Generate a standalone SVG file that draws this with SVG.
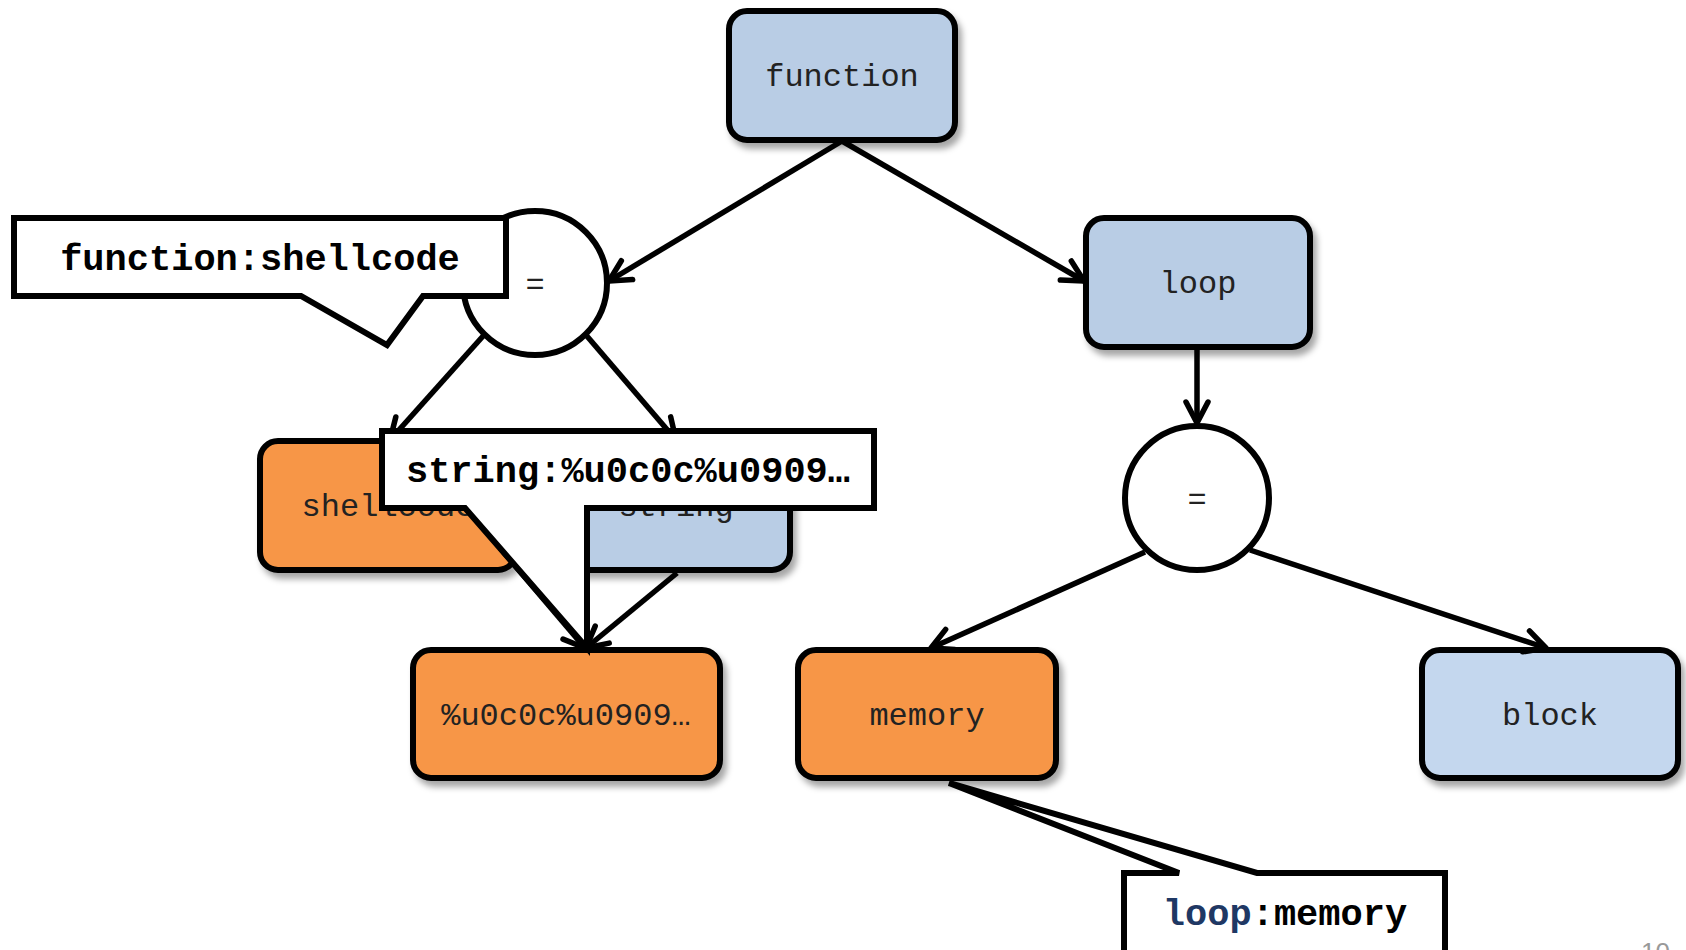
<svg xmlns="http://www.w3.org/2000/svg" width="1686" height="950" viewBox="0 0 1686 950">
<defs>
<filter id="sh" x="-10%" y="-10%" width="130%" height="140%">
<feDropShadow dx="4" dy="6" stdDeviation="3" flood-color="#000" flood-opacity="0.35"/>
</filter>
<marker id="arr" markerUnits="userSpaceOnUse" viewBox="-26 -15 30 30" refX="0" refY="0" markerWidth="30" markerHeight="30" orient="auto" overflow="visible">
<path d="M-21,-11 L0,0 L-21,11" fill="none" stroke="#000" stroke-width="5.5" stroke-linecap="round" stroke-linejoin="round"/>
</marker>
</defs>
<style>
.box{stroke:#000;stroke-width:6;filter:url(#sh)}
.blue{fill:#B9CDE5}
.blue2{fill:#C4D7EE}
.orange{fill:#F79646}
.circ{fill:#fff;stroke:#000;stroke-width:6}
.lbl{font-family:"Liberation Mono","Courier New",monospace;font-size:32px;fill:#222;text-anchor:middle}
.conn{stroke:#000;stroke-width:5.5;fill:none;marker-end:url(#arr)}
.call{fill:#fff;stroke:#000;stroke-width:6;stroke-linejoin:miter}
.ctext{font-family:"Liberation Mono","Courier New",monospace;font-size:37px;font-weight:bold;fill:#000;text-anchor:middle}
</style>
<rect width="1686" height="950" fill="#fff"/>

<g id="node-function"><rect class="box blue" x="729" y="11" width="226" height="129" rx="18"/><text class="lbl" x="842" y="86">function</text></g>
<g id="node-loop"><rect class="box blue" x="1086" y="218" width="224" height="129" rx="18"/><text class="lbl" x="1198" y="293">loop</text></g>
<g id="node-eq1"><circle class="circ" cx="535" cy="283" r="72"/><text class="lbl" x="535" y="294">=</text></g>
<g id="node-eq2"><circle class="circ" cx="1197" cy="498" r="72"/><text class="lbl" x="1197" y="509">=</text></g>
<g id="node-shellcode"><rect class="box orange" x="260" y="441" width="256" height="129" rx="18"/><text class="lbl" x="388" y="516">shellcode</text></g>
<g id="node-string"><rect class="box blue" x="562" y="441" width="228" height="129" rx="18"/><text class="lbl" x="676" y="516">string</text></g>
<g id="node-value"><rect class="box orange" x="413" y="650" width="307" height="128" rx="18"/><text class="lbl" x="566" y="725">%u0c0c%u0909…</text></g>
<g id="node-memory"><rect class="box orange" x="798" y="650" width="258" height="128" rx="18"/><text class="lbl" x="927" y="725">memory</text></g>
<g id="node-block"><rect class="box blue2" x="1422" y="650" width="256" height="128" rx="18"/><text class="lbl" x="1550" y="725">block</text></g>

<g id="connectors">
<line class="conn" x1="842" y1="141" x2="609" y2="281"/>
<line class="conn" x1="842" y1="141" x2="1084" y2="281"/>
<line class="conn" x1="484" y1="335" x2="390" y2="440"/>
<line class="conn" x1="586" y1="335" x2="676" y2="440"/>
<line class="conn" x1="1197" y1="348" x2="1197" y2="423"/>
<line class="conn" x1="1145" y1="552" x2="931" y2="648"/>
<line class="conn" x1="1250" y1="550" x2="1546" y2="648"/>
<line class="conn" x1="500" y1="548" x2="585" y2="648"/>
<line class="conn" x1="677" y1="573" x2="586" y2="648"/>
</g>

<g id="callout-function-shellcode">
<path class="call" d="M14,218 H506 V296 H423 L387,345 L301,296 H14 Z"/>
<text class="ctext" x="260" y="270">function:shellcode</text>
</g>
<g id="callout-string">
<path class="call" d="M382,431 H874 V508 H587 V648 L465,508 H382 Z"/>
<text class="ctext" x="628" y="482">string:%u0c0c%u0909…</text>
</g>
<g id="callout-loop-memory">
<path class="call" d="M1124,873 H1179 L949,783 L1257,873 H1445 V965 H1124 Z"/>
<text class="ctext" x="1285" y="925"><tspan fill="#1F3864">loop</tspan>:memory</text>
</g>

<text x="1641" y="961" font-family="Liberation Sans, Arial, sans-serif" font-size="26" fill="#999">10</text>
</svg>
